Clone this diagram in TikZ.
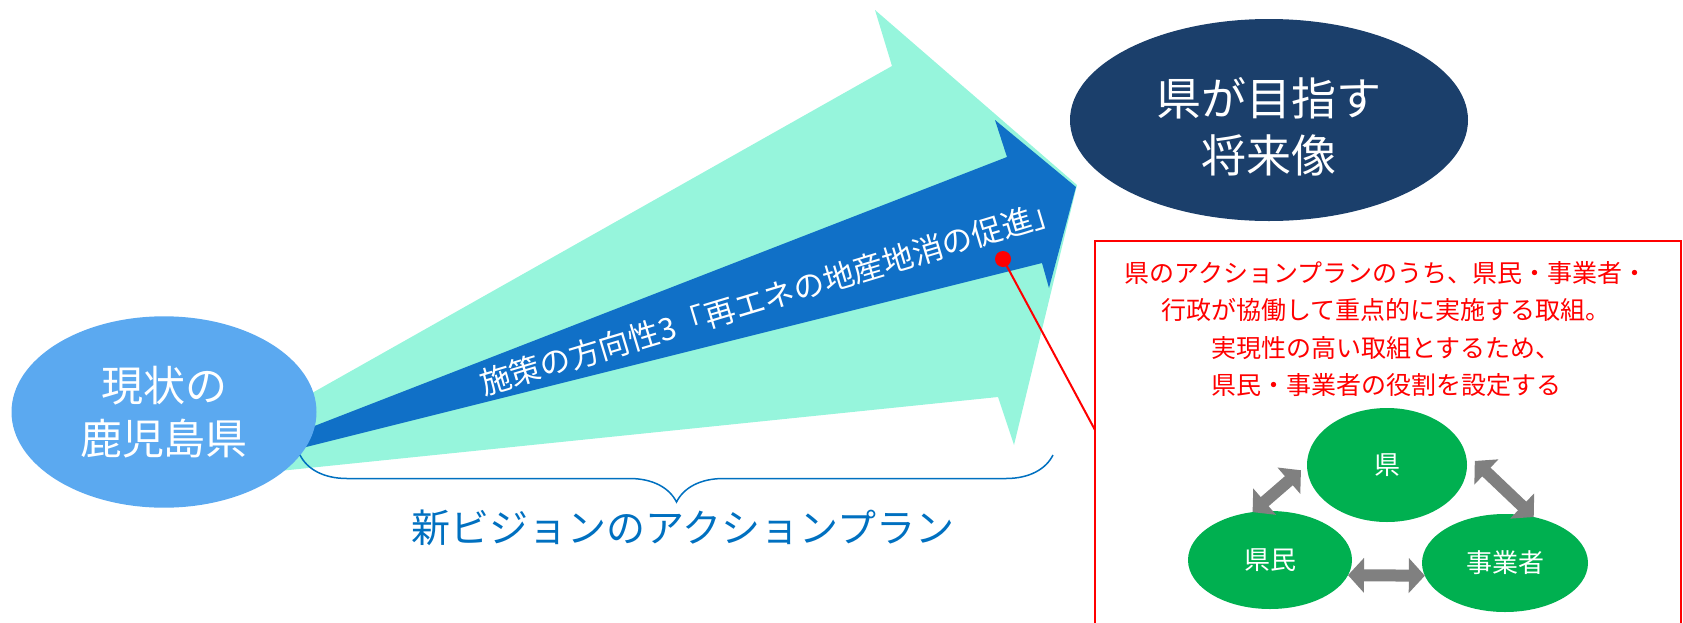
\documentclass[tikz,border=0pt]{standalone}
\usepackage{fontspec}
\setmainfont{Noto Sans CJK JP}
\usetikzlibrary{shapes.geometric,arrows.meta,decorations.pathreplacing}
\definecolor{mint}{RGB}{150,245,220}
\definecolor{arrowblue}{RGB}{16,112,199}
\definecolor{nowblue}{RGB}{91,169,240}
\definecolor{goalnavy}{RGB}{27,63,107}
\definecolor{actgreen}{RGB}{0,176,80}
\definecolor{planblue}{RGB}{0,112,192}

\begin{document}
\begin{tikzpicture}
   [x=0.5pt,y=-0.5pt,
   every node/.style={inner sep=0pt,outer sep=0pt},
   oval/.style={ellipse,fill=#1,text=white,align=center},
   actor/.style={ellipse,fill=actgreen,text=white,font=\fontsize{13}{15}\selectfont},
   twoway/.style={draw=gray,line width=6pt,
      {Triangle[width=17pt,length=8pt]}-{Triangle[width=17pt,length=8pt]}}]

   \path[use as bounding box,clip] (0,0) rectangle (1683,622);

   \fill[mint]      (250,428) -- (892,66) -- (875,10) -- (1077,185)
                    -- (1014,445) -- (998,397) -- (250,474) -- cycle;
   \fill[arrowblue] (250,451) -- (1007,157) -- (995,120) -- (1076,187)
                    -- (1049,288) -- (1042,263) -- (250,461) -- cycle;

   \node[oval=nowblue,minimum width=152.5pt,minimum height=95.7pt,
         font=\fontsize{21}{26.5}\selectfont] (now) at (164,412) {現状の\\鹿児島県};
   \node[oval=goalnavy,minimum width=199pt,minimum height=101pt] (goal) at (1269,120) {};
   \node[text=white,align=center,font=\fontsize{22.5}{28.5}\selectfont]
         (goaltext) at (1269,127) {県が目指す\\将来像};

   \node[rotate=16.8,text=white,font=\fontsize{15.5}{18}\selectfont]
         (policy) at (771,297) {施策の方向性3「再エネの地産地消の促進」};

   \coordinate (planL) at (300,455);
   \coordinate (planR) at (1053,455);
   \draw[planblue,line width=0.75pt,decorate,
         decoration={brace,mirror,amplitude=23.5pt}] (planL) -- (planR);
   \node[text=planblue,font=\fontsize{19.5}{22}\selectfont]
         (plan) at (683,528) {新ビジョンのアクションプラン};

   \node[circle,fill=red,minimum size=8pt] (dot) at (1003,259) {};
   \coordinate (callout) at (1095,430);
   \draw[red,line width=1pt] (dot.center) -- (callout);
   \draw[red,line width=1.2pt] (1095,241) rectangle (1681,650);
   \node[text=red,align=center,font=\fontsize{12.5}{18.75}\selectfont] (note) at (1386,329)
         {県のアクションプランのうち、県民・事業者・\\行政が協働して重点的に実施する取組。\\
          実現性の高い取組とするため、\\県民・事業者の役割を設定する};

   \node[actor,minimum width=80pt,minimum height=57pt] (ken)    at (1387,465) {県};
   \node[actor,minimum width=82pt,minimum height=49pt] (kenmin) at (1270,560) {県民};
   \node[actor,minimum width=83pt,minimum height=49pt] (jigyo)  at (1505,563) {事業者};

   \draw[twoway,shorten >=4pt] (kenmin.110) -- (ken.west);
   \draw[twoway,shorten <=7pt] (ken.10) -- (jigyo.58);
   \draw[twoway] (kenmin.-11) -- (jigyo.189);
\end{tikzpicture}
\end{document}
